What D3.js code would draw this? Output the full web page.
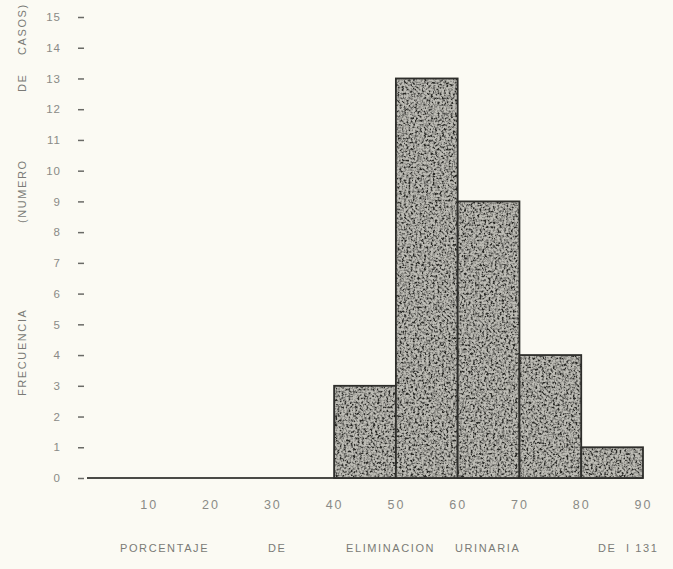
<!DOCTYPE html>
<meta charset="utf-8">
<style>
body { margin: 0; background: #fbfaf3; }
.axis .domain { display: none; }
.axis text { font: 11.5px "Liberation Sans", sans-serif; fill: #8a8a86; letter-spacing: 1px; }
.axis line { stroke: #6a6a66; stroke-width: 1.5px; }
.title { font: 11px "Liberation Sans", sans-serif; fill: #7a7a76; letter-spacing: 1.6px; }
</style>
<body>
<svg width="673" height="569" id="chart"></svg>
<script src="https://d3js.org/d3.v7.min.js"></script>
<script>
// histogram bins (percent eliminated) and counts
var binStarts = [40, 50, 60, 70, 80];
var binWidth = 10;
var counts = [3, 13, 9, 4, 1];
var xTicks = [10, 20, 30, 40, 50, 60, 70, 80, 90];
var yTicks = [0, 1, 2, 3, 4, 5, 6, 7, 8, 9, 10, 11, 12, 13, 14, 15];
var yTitleWords = ["FRECUENCIA", "(NUMERO", "DE", "CASOS)"];
var xTitleWords = ["PORCENTAJE", "DE", "ELIMINACION", "URINARIA", "DE", "I 131"];

var svg = d3.select("#chart");
svg.append("rect").attr("width", 673).attr("height", 569).attr("fill", "#fbfaf3");

var x = d3.scaleLinear().domain([0, 90]).range([87, 643]);
var y = d3.scaleLinear().domain([0, 15]).range([478, 17]);

// stipple texture for the bars
var defs = svg.append("defs");
var f = defs.append("filter").attr("id", "stipple").attr("x", 0).attr("y", 0).attr("width", 1).attr("height", 1);
f.append("feTurbulence").attr("type", "fractalNoise").attr("baseFrequency", 0.45).attr("numOctaves", 3).attr("seed", 3).attr("result", "noise");
f.append("feColorMatrix").attr("in", "noise").attr("type", "matrix")
  .attr("values", "0 0 0 0 0  0 0 0 0 0  0 0 0 0 0  3 0 0 0 -1.15")
  .attr("result", "dots");
f.append("feFlood").attr("flood-color", "#2a2a28").attr("result", "ink");
f.append("feComposite").attr("in", "ink").attr("in2", "dots").attr("operator", "in").attr("result", "inkdots");
f.append("feComposite").attr("in", "inkdots").attr("in2", "SourceGraphic").attr("operator", "in").attr("result", "clipped");
f.append("feMerge").call(function(m) {
  m.append("feMergeNode").attr("in", "SourceGraphic");
  m.append("feMergeNode").attr("in", "clipped");
});

// baseline
svg.append("line")
  .attr("x1", x(0)).attr("x2", x(90))
  .attr("y1", y(0)).attr("y2", y(0))
  .attr("stroke", "#4a4a46").attr("stroke-width", 2);

var bars = svg.selectAll(".bar")
  .data(counts)
  .enter().append("g").attr("class", "bar");
bars.append("rect")
  .attr("x", function(d, i) { return x(binStarts[i]); })
  .attr("y", function(d) { return y(d); })
  .attr("width", function(d, i) { return x(binStarts[i] + binWidth) - x(binStarts[i]); })
  .attr("height", function(d) { return y(0) - y(d); })
  .attr("fill", "#bdbcb5")
  .attr("filter", "url(#stipple)");
bars.append("rect")
  .attr("x", function(d, i) { return x(binStarts[i]); })
  .attr("y", function(d) { return y(d); })
  .attr("width", function(d, i) { return x(binStarts[i] + binWidth) - x(binStarts[i]); })
  .attr("height", function(d) { return y(0) - y(d); })
  .attr("fill", "none")
  .attr("stroke", "#2e2e2b")
  .attr("stroke-width", 1.8);

// y axis: small dashes plus numbers
svg.append("g")
  .attr("class", "axis")
  .attr("transform", "translate(84,0)")
  .call(d3.axisLeft(y).tickValues(yTicks).tickSize(6).tickPadding(17));

// x axis: numbers only
var xa = svg.append("g")
  .attr("class", "axis")
  .attr("transform", "translate(0," + (y(0) + 16) + ")")
  .call(d3.axisBottom(x).tickValues(xTicks).tickSize(0).tickPadding(6));
xa.selectAll("text").style("font-size", "12.5px").style("letter-spacing", "2px");

// titles, words spread out as in the original
var yWordPos = [396, 223, 92, 55];
svg.append("text")
  .attr("class", "title")
  .attr("transform", "translate(26,0) rotate(-90)")
  .selectAll("tspan")
  .data(yTitleWords)
  .enter().append("tspan")
  .attr("x", function(d, i) { return -yWordPos[i]; })
  .text(function(d) { return d; });

var xWordPos = [120, 268, 346, 455, 598, 626];
svg.append("text")
  .attr("class", "title")
  .attr("y", 552)
  .selectAll("tspan")
  .data(xTitleWords)
  .enter().append("tspan")
  .attr("x", function(d, i) { return xWordPos[i]; })
  .text(function(d) { return d; });
</script>
</body>
